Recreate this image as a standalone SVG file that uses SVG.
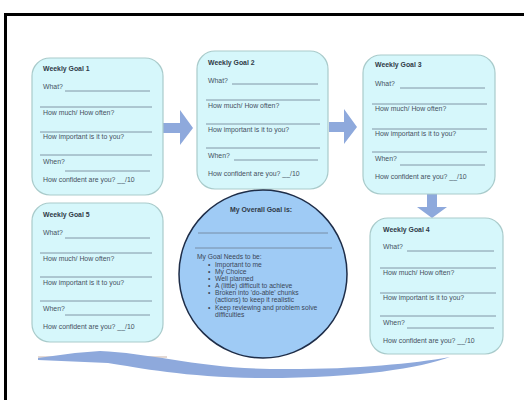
<svg xmlns="http://www.w3.org/2000/svg" width="524" height="400" viewBox="0 0 524 400">
<defs>
<style>
.box{fill:#d6f7fb;stroke:#a9cbcb;stroke-width:1.2}
.t{font-family:"Liberation Sans",Arial,sans-serif;font-size:6.9px;fill:#45505e}
.c{font-family:"Liberation Sans",Arial,sans-serif;font-size:6.7px;fill:#3a4658}
.h{font-family:"Liberation Sans",Arial,sans-serif;font-size:6.9px;font-weight:bold;fill:#2f3a48}
.ln{stroke:#6d7f92;stroke-width:0.8}
.arr{fill:#8ea9dc}
</style>
</defs>
<rect x="0" y="0" width="524" height="400" fill="#ffffff"/>
<rect x="5.5" y="14.5" width="540" height="400" fill="none" stroke="#000" stroke-width="3"/>

<g id="connectors">
<path class="arr" d="M163,123 L180,123 L180,110 L193,128 L180,145 L180,133 L163,133 Z"/>
<path class="arr" d="M329,122 L344,122 L344,109 L357,127 L344,144 L344,132 L329,132 Z"/>
<path class="arr" d="M427,194 L437,194 L437,207 L447,207 L432,218 L417,207 L427,207 Z"/>
<line x1="38" y1="357" x2="167" y2="357" stroke="#c9b3a8" stroke-width="1"/>
<path class="arr" d="M38,358 L75,353 L100,351 C150,353 200,368 270,369 C350,370 410,364 450,357 C420,368 360,378 265,378 C190,378 140,368 108,363 L38,360 Z"/>
</g>

<g id="goal1" transform="translate(32,58)">
<rect class="box" x="0" y="0" width="131" height="137" rx="18"/>
<text class="h" x="11" y="13">Weekly Goal 1</text>
<text class="t" x="11" y="31">What?</text><line class="ln" x1="33" y1="33" x2="118" y2="33"/>
<line class="ln" x1="8" y1="49" x2="120" y2="49"/>
<text class="t" x="11" y="57">How much/ How often?</text>
<line class="ln" x1="8" y1="74" x2="120" y2="74"/>
<text class="t" x="11" y="81">How important is it to you?</text>
<line class="ln" x1="8" y1="97" x2="120" y2="97"/>
<text class="t" x="11" y="106">When?</text><line class="ln" x1="33" y1="113" x2="118" y2="113"/>
<text class="t" x="11" y="124">How confident are you?  __/10</text>
</g>

<g id="goal2" transform="translate(197,51)">
<rect class="box" x="0" y="0" width="131" height="138" rx="18"/>
<text class="h" x="11" y="14">Weekly Goal 2</text>
<text class="t" x="11" y="32">What?</text><line class="ln" x1="35" y1="33" x2="121" y2="33"/>
<line class="ln" x1="9" y1="49" x2="123" y2="49"/>
<text class="t" x="11" y="57">How much/ How often?</text>
<line class="ln" x1="9" y1="73" x2="123" y2="73"/>
<text class="t" x="11" y="81">How important is it to you?</text>
<line class="ln" x1="9" y1="97" x2="123" y2="97"/>
<text class="t" x="11" y="107">When?</text><line class="ln" x1="37" y1="109" x2="121" y2="109"/>
<text class="t" x="11" y="125">How confident are you?  __/10</text>
</g>

<g id="goal3" transform="translate(363,55)">
<rect class="box" x="0" y="0" width="132" height="139" rx="18"/>
<text class="h" x="12" y="12">Weekly Goal 3</text>
<text class="t" x="12" y="31">What?</text><line class="ln" x1="37" y1="33" x2="122" y2="33"/>
<line class="ln" x1="9" y1="49" x2="124" y2="49"/>
<text class="t" x="12" y="56">How much/ How often?</text>
<line class="ln" x1="9" y1="74" x2="124" y2="74"/>
<text class="t" x="12" y="81">How important is it to you?</text>
<line class="ln" x1="9" y1="97" x2="124" y2="97"/>
<text class="t" x="12" y="106">When?</text><line class="ln" x1="37" y1="110" x2="122" y2="110"/>
<text class="t" x="12" y="124">How confident are you?  __/10</text>
</g>

<g id="goal4" transform="translate(370,218)">
<rect class="box" x="0" y="0" width="133" height="136" rx="18"/>
<text class="h" x="13" y="14">Weekly Goal 4</text>
<text class="t" x="13" y="31">What?</text><line class="ln" x1="37" y1="33" x2="124" y2="33"/>
<line class="ln" x1="10" y1="50" x2="126" y2="50"/>
<text class="t" x="13" y="57">How much/ How often?</text>
<line class="ln" x1="10" y1="75" x2="126" y2="75"/>
<text class="t" x="13" y="82">How important is it to you?</text>
<line class="ln" x1="10" y1="98" x2="126" y2="98"/>
<text class="t" x="13" y="107">When?</text><line class="ln" x1="37" y1="110" x2="124" y2="110"/>
<text class="t" x="13" y="125">How confident are you?  __/10</text>
</g>

<g id="goal5" transform="translate(32,203)">
<rect class="box" x="0" y="0" width="131" height="139" rx="18"/>
<text class="h" x="11" y="14">Weekly Goal 5</text>
<text class="t" x="11" y="32">What?</text><line class="ln" x1="33" y1="35" x2="118" y2="35"/>
<line class="ln" x1="8" y1="50" x2="120" y2="50"/>
<text class="t" x="11" y="58">How much/ How often?</text>
<line class="ln" x1="8" y1="74" x2="120" y2="74"/>
<text class="t" x="11" y="82">How important is it to you?</text>
<line class="ln" x1="8" y1="98" x2="120" y2="98"/>
<text class="t" x="11" y="108">When?</text><line class="ln" x1="33" y1="112" x2="118" y2="112"/>
<text class="t" x="11" y="126">How confident are you?  __/10</text>
</g>

<g id="overall">
<circle cx="263" cy="274" r="84" fill="#9fcbf5" stroke="#1e2d48" stroke-width="1.5"/>
<text class="h" x="261" y="212" text-anchor="middle">My Overall Goal is:</text>
<line class="ln" x1="198" y1="233" x2="328" y2="233"/>
<line class="ln" x1="195" y1="248" x2="332" y2="248"/>
<text class="c" x="197" y="259">My Goal Needs to be:</text>
<g class="c">
<text x="208" y="267">•</text><text x="215" y="267">Important to me</text>
<text x="208" y="274">•</text><text x="215" y="274">My Choice</text>
<text x="208" y="281">•</text><text x="215" y="281">Well planned</text>
<text x="208" y="288">•</text><text x="215" y="288">A (little) difficult to achieve</text>
<text x="208" y="295">•</text><text x="215" y="295">Broken into 'do-able' chunks</text>
<text x="215" y="302">(actions) to keep it realistic</text>
<text x="208" y="310">•</text><text x="215" y="310">Keep reviewing and problem solve</text>
<text x="215" y="317">difficulties</text>
</g>
</g>
</svg>
